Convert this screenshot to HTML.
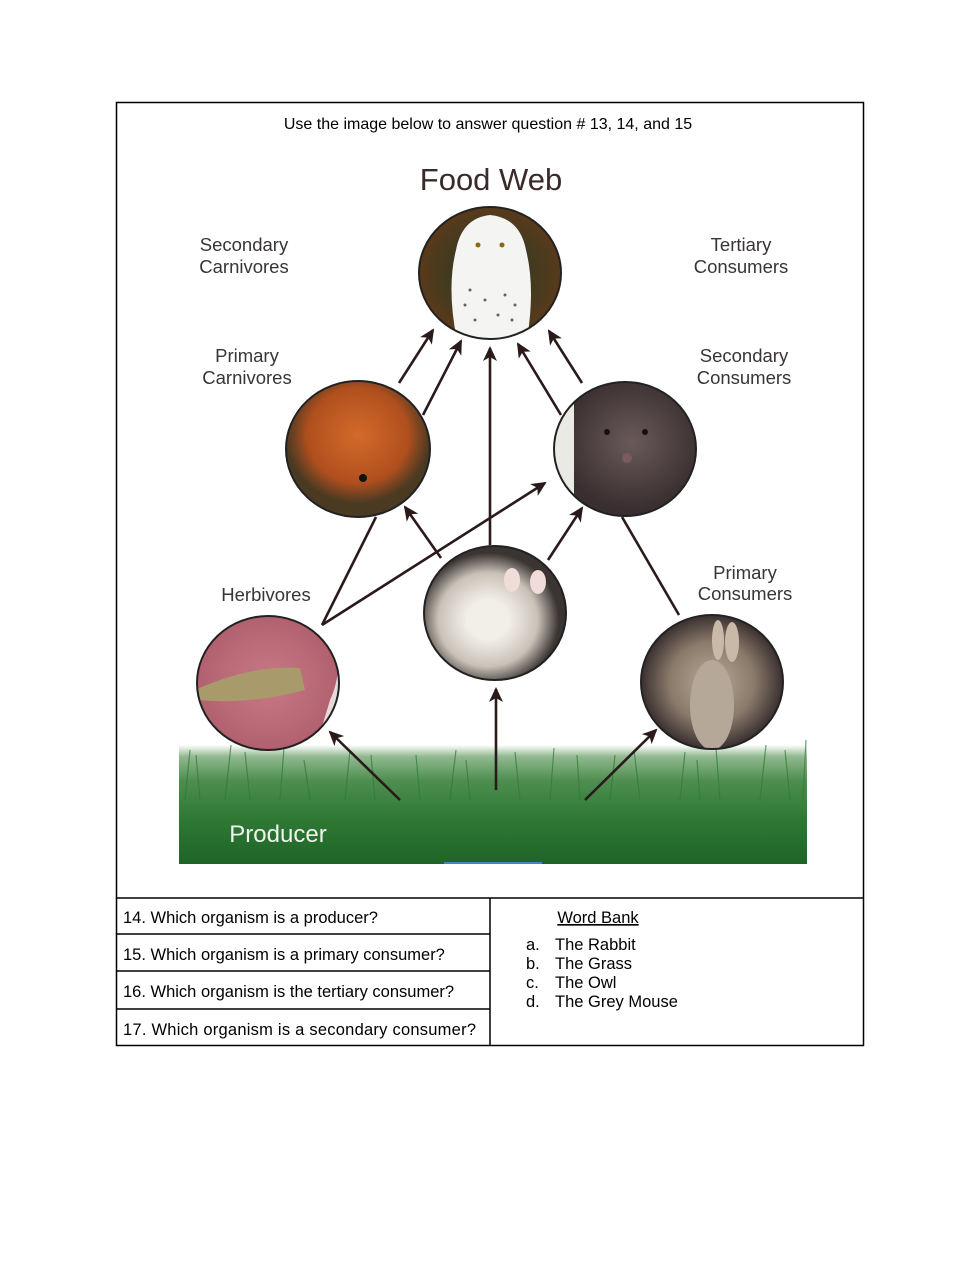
<!DOCTYPE html>
<html><head><meta charset="utf-8"><style>
html,body{margin:0;padding:0;background:#fff;}
svg{display:block;}
</style></head><body>
<svg width="979" height="1266" viewBox="0 0 979 1266" xmlns="http://www.w3.org/2000/svg">
<defs>
<marker id="ah" markerWidth="16" markerHeight="14" refX="13" refY="7" orient="auto" markerUnits="userSpaceOnUse">
<path d="M0,0 L15,7 L0,14 L4,7 Z" fill="#2a1a1a"/></marker>
<linearGradient id="grass" x1="0" y1="0" x2="0" y2="1">
<stop offset="0" stop-color="#ffffff"/><stop offset="0.1" stop-color="#8fb88e"/><stop offset="0.3" stop-color="#4e8e50"/><stop offset="0.6" stop-color="#2f7a35"/><stop offset="1" stop-color="#1f6427"/></linearGradient>
<radialGradient id="owlbg"><stop offset="0.5" stop-color="#3b3a22"/><stop offset="1" stop-color="#5a3a1a"/></radialGradient>
<radialGradient id="snake" cx="0.5" cy="0.4"><stop offset="0" stop-color="#d46a2a"/><stop offset="0.7" stop-color="#b04f1e"/><stop offset="1" stop-color="#4a3a22"/></radialGradient>
<radialGradient id="rat" cx="0.55" cy="0.45"><stop offset="0" stop-color="#6a5a5a"/><stop offset="1" stop-color="#3a2f30"/></radialGradient>
<radialGradient id="mouse" cx="0.45" cy="0.55"><stop offset="0.3" stop-color="#f2eee8"/><stop offset="0.7" stop-color="#c9c2b8"/><stop offset="1" stop-color="#3a3432"/></radialGradient>
<radialGradient id="hop"><stop offset="0" stop-color="#c87a86"/><stop offset="1" stop-color="#b2606f"/></radialGradient>
<radialGradient id="rab"><stop offset="0" stop-color="#b9aa9a"/><stop offset="0.6" stop-color="#8a7a6a"/><stop offset="1" stop-color="#3a3030"/></radialGradient>
<clipPath id="cOwl"><ellipse cx="490" cy="273" rx="71" ry="66"/></clipPath>
<clipPath id="cRat"><ellipse cx="625" cy="449" rx="71" ry="67"/></clipPath>
<clipPath id="cHop"><ellipse cx="268" cy="683" rx="71" ry="67"/></clipPath>
<clipPath id="cRab"><ellipse cx="712" cy="682" rx="71" ry="67"/></clipPath>
</defs>

<rect x="116.5" y="102.5" width="747" height="943" fill="none" stroke="#000" stroke-width="1.5"/>
<line x1="116" y1="898" x2="864" y2="898" stroke="#000" stroke-width="1.5"/>
<line x1="490" y1="898" x2="490" y2="1046" stroke="#000" stroke-width="1.5"/>
<line x1="116" y1="934" x2="490" y2="934" stroke="#000" stroke-width="1.5"/>
<line x1="116" y1="971" x2="490" y2="971" stroke="#000" stroke-width="1.5"/>
<line x1="116" y1="1009" x2="490" y2="1009" stroke="#000" stroke-width="1.5"/>

<g font-family="Liberation Sans, sans-serif" fill="#000" font-size="16.5">
<text x="488" y="129" text-anchor="middle" font-size="16">Use the image below to answer question # 13, 14, and 15</text>
<text x="123" y="923">14. Which organism is a  producer?</text>
<text x="123" y="960">15. Which organism is a primary consumer?</text>
<text x="123" y="997">16. Which organism is the tertiary consumer?</text>
<text x="123" y="1035" textLength="353">17. Which organism is a secondary consumer?</text>
<text x="598" y="923" text-anchor="middle" text-decoration="underline">Word Bank</text>
<text x="526" y="950">a.</text><text x="555" y="950">The Rabbit</text>
<text x="526" y="969">b.</text><text x="555" y="969">The Grass</text>
<text x="526" y="988">c.</text><text x="555" y="988">The Owl</text>
<text x="526" y="1007">d.</text><text x="555" y="1007">The Grey Mouse</text>
</g>

<!-- grass -->
<rect x="179" y="745" width="628" height="119" fill="url(#grass)"/>
<g stroke="#2f7a35" stroke-width="1.2" opacity="0.7">
<path d="M185 800 l5 -50 M200 800 l-4 -45 M225 800 l6 -55 M250 800 l-5 -48 M280 800 l4 -52 M310 800 l-6 -40 M345 800 l5 -50 M375 800 l-4 -45 M420 800 l-4 -45 M450 800 l6 -50 M470 800 l-4 -40 M520 800 l-5 -48 M550 800 l4 -52 M580 800 l-3 -45 M610 800 l5 -45 M640 800 l-6 -50 M680 800 l5 -48 M700 800 l-3 -40 M720 800 l-4 -52 M760 800 l6 -55 M790 800 l-5 -50 M803 800 l3 -60"/>
</g>
<rect x="444" y="862" width="98" height="2" fill="#3a8ac0"/>

<g font-family="Liberation Sans, sans-serif" fill="#3a2a2a" text-anchor="middle">
<text x="491" y="190" font-size="31">Food Web</text>
<g font-size="18.5" fill="#3a3434">
<text x="244" y="251">Secondary</text><text x="244" y="273">Carnivores</text>
<text x="741" y="251">Tertiary</text><text x="741" y="273">Consumers</text>
<text x="247" y="362">Primary</text><text x="247" y="384">Carnivores</text>
<text x="744" y="362">Secondary</text><text x="744" y="384">Consumers</text>
<text x="266" y="601">Herbivores</text>
<text x="745" y="579">Primary</text><text x="745" y="600">Consumers</text>
</g>
<text x="278" y="842" font-size="24" fill="#eef3ee">Producer</text>
</g>

<!-- arrows -->
<g stroke="#2a1a1a" stroke-width="2.6" fill="none">
<line x1="399" y1="383" x2="433" y2="330" marker-end="url(#ah)"/>
<line x1="423" y1="415" x2="461" y2="341" marker-end="url(#ah)"/>
<line x1="490" y1="545" x2="490" y2="348" marker-end="url(#ah)"/>
<line x1="561" y1="415" x2="518" y2="344" marker-end="url(#ah)"/>
<line x1="582" y1="383" x2="549" y2="331" marker-end="url(#ah)"/>
<line x1="376" y1="517" x2="322" y2="625"/>
<line x1="322" y1="625" x2="545" y2="483" marker-end="url(#ah)"/>
<line x1="441" y1="558" x2="405" y2="507" marker-end="url(#ah)"/>
<line x1="548" y1="560" x2="582" y2="508" marker-end="url(#ah)"/>
<line x1="622" y1="517" x2="679" y2="615"/>
<line x1="400" y1="800" x2="330" y2="732" marker-end="url(#ah)"/>
<line x1="496" y1="790" x2="496" y2="689" marker-end="url(#ah)"/>
<line x1="585" y1="800" x2="656" y2="730" marker-end="url(#ah)"/>
</g>

<!-- owl -->
<ellipse cx="490" cy="273" rx="71" ry="66" fill="url(#owlbg)"/>
<g clip-path="url(#cOwl)">
<path d="M458 345 Q446 290 456 250 Q462 218 490 215 Q520 218 526 250 Q536 290 526 345 Z" fill="#f4f4f2"/>
<circle cx="478" cy="245" r="2.5" fill="#8a6a10"/><circle cx="502" cy="245" r="2.5" fill="#8a6a10"/>
<g fill="#6a6060"><circle cx="470" cy="290" r="1.5"/><circle cx="485" cy="300" r="1.5"/><circle cx="505" cy="295" r="1.5"/><circle cx="498" cy="315" r="1.5"/><circle cx="475" cy="320" r="1.5"/><circle cx="512" cy="320" r="1.5"/><circle cx="465" cy="305" r="1.5"/><circle cx="515" cy="305" r="1.5"/></g>
</g>
<ellipse cx="490" cy="273" rx="71" ry="66" fill="none" stroke="#222" stroke-width="2"/>
<!-- snake -->
<ellipse cx="358" cy="449" rx="72" ry="68" fill="url(#snake)" stroke="#222" stroke-width="2"/>
<circle cx="363" cy="478" r="4" fill="#111"/>
<!-- rat -->
<ellipse cx="625" cy="449" rx="71" ry="67" fill="url(#rat)"/>
<g clip-path="url(#cRat)"><rect x="550" y="380" width="24" height="140" fill="#eaeae4"/></g>
<ellipse cx="625" cy="449" rx="71" ry="67" fill="none" stroke="#222" stroke-width="2"/>
<circle cx="607" cy="432" r="3" fill="#111"/><circle cx="645" cy="432" r="3" fill="#111"/>
<circle cx="627" cy="458" r="5" fill="#7a5a5a"/>
<!-- white mouse -->
<ellipse cx="495" cy="613" rx="71" ry="67" fill="url(#mouse)" stroke="#222" stroke-width="2"/>
<ellipse cx="512" cy="580" rx="8" ry="12" fill="#f0dcd8"/><ellipse cx="538" cy="582" rx="8" ry="12" fill="#f0dcd8"/>
<!-- grasshopper -->
<ellipse cx="268" cy="683" rx="71" ry="67" fill="url(#hop)"/>
<g clip-path="url(#cHop)">
<path d="M195 690 Q250 665 300 668 L305 690 Q250 705 195 700 Z" fill="#a89a6a"/>
<path d="M315 750 L330 700 Q340 680 340 640 L345 750 Z" fill="#eee" opacity="0.85"/>
</g>
<ellipse cx="268" cy="683" rx="71" ry="67" fill="none" stroke="#222" stroke-width="2"/>
<!-- rabbit -->
<ellipse cx="712" cy="682" rx="71" ry="67" fill="url(#rab)"/>
<g clip-path="url(#cRab)">
<ellipse cx="712" cy="705" rx="22" ry="45" fill="#b5a898"/>
<ellipse cx="718" cy="640" rx="6" ry="20" fill="#c9b9a8"/><ellipse cx="732" cy="642" rx="7" ry="20" fill="#c9b9a8"/>
</g>
<ellipse cx="712" cy="682" rx="71" ry="67" fill="none" stroke="#222" stroke-width="2"/>
</svg>
</body></html>
